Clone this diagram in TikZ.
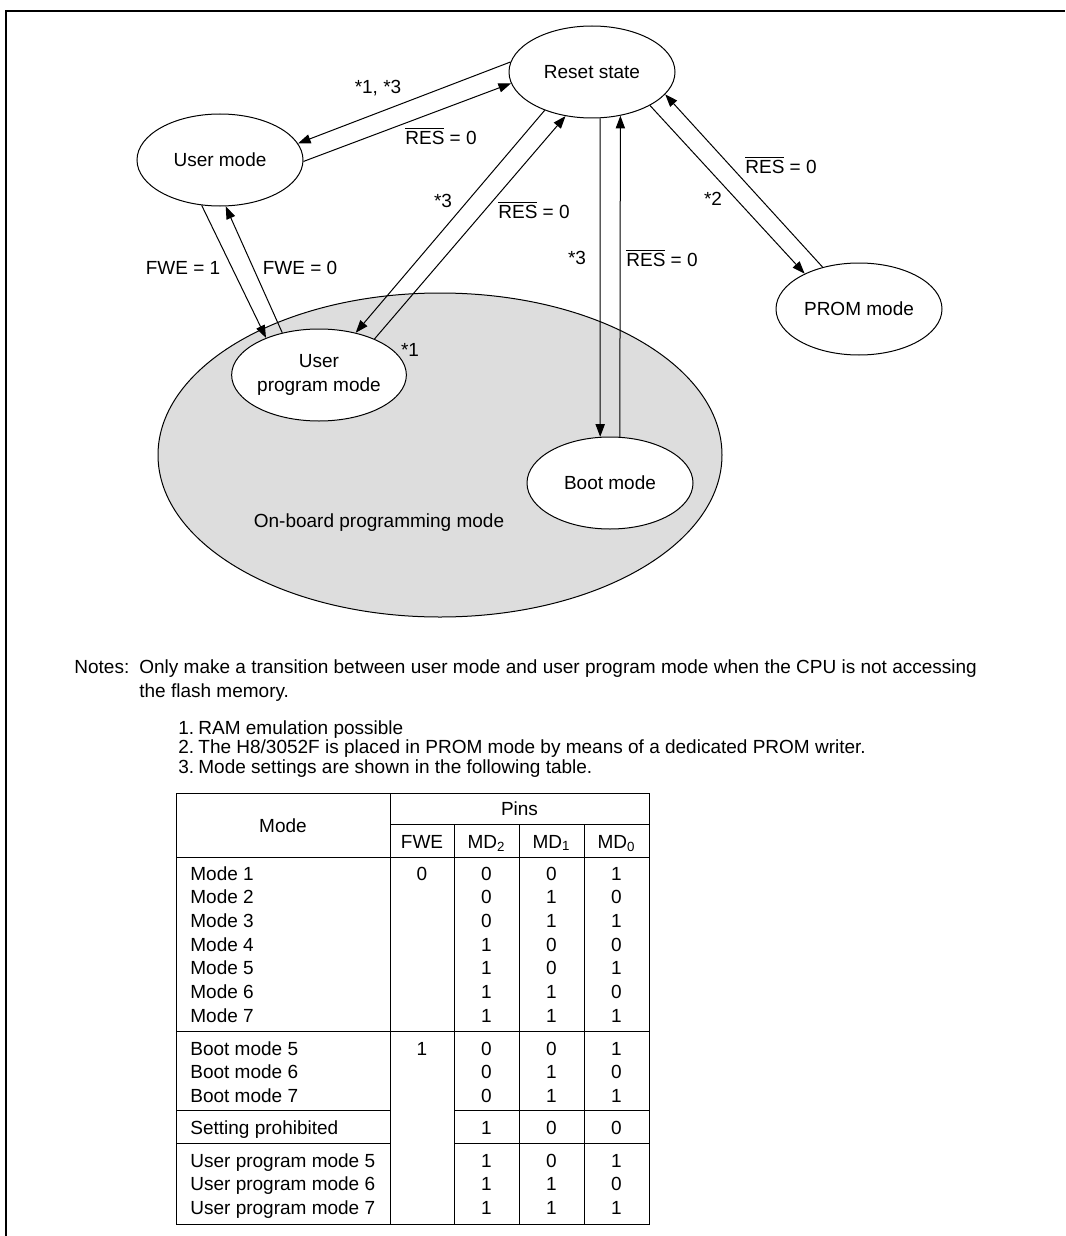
\documentclass[tikz,border=0pt]{standalone}
\usepackage{fontspec}
\setmainfont{Liberation Sans}
\usetikzlibrary{shapes.geometric,arrows.meta}
\definecolor{obgray}{RGB}{221,221,221}
\newcommand\resz{$\overline{\mbox{RES}}$ = 0}
\begin{document}
\begin{tikzpicture}[x=0.5pt,y=-0.5pt,
  every node/.style={font=\fontsize{9.5}{12}\selectfont},
  st/.style={ellipse,draw,fill=white,line width=0.5pt,minimum width=83pt,minimum height=46pt,inner sep=0pt,align=center},
  conn/.style={line width=0.5pt,-{Triangle[length=6.3pt,width=4.6pt]}},
  lab/.style={inner sep=0pt,anchor=base},
  txt/.style={inner sep=0pt,anchor=base west},
  tline/.style={line width=0.5pt},
  ]
\useasboundingbox (0,0) rectangle (1065,1236);
% frame
\draw[line width=1pt] (6,1236) -- (6,11) -- (1065,11);

% on-board programming region
\node[ellipse,draw,fill=obgray,line width=0.5pt,minimum width=282pt,minimum height=162pt,inner sep=0pt] (obp) at (440,455) {};
\node[lab] (obplab) at (379,527) {On-board programming mode};

% states
\node[st] (reset) at (592,72) {Reset state};
\node[st] (user) at (220,160) {User mode};
\node[st] (prom) at (859,309) {PROM mode};
\node[st] (upm) at (319,375) {User\\program mode};
\node[st] (boot) at (610,483) {Boot mode};

% connectors
\draw[conn] (reset.173) -- (user.12);
\draw[conn] (user.-1) -- (reset.188);
\draw[conn] (user.248) -- (upm.145);
\draw[conn] (upm.131) -- (user.277);
\draw[conn] (reset.219) -- (upm.49);
\draw[conn] (upm.33) -- (reset.239);
\draw[conn] (reset.280) -- (boot.102);
\draw[conn] (boot.78) -- (reset.303);
\draw[conn] (reset.330) -- (prom.147);
\draw[conn] (prom.131) -- (reset.343);

% labels
\node[lab] (l1) at (378,94) {*1, *3};
\node[lab] (l2) at (441,144) {\resz};
\node[lab] (l3) at (183,274) {FWE = 1};
\node[lab] (l4) at (300,274) {FWE = 0};
\node[lab] (l5) at (443,207) {*3};
\node[lab] (l6) at (534,218) {\resz};
\node[lab] (l7) at (577,264) {*3};
\node[lab] (l8) at (662,266) {\resz};
\node[lab] (l9) at (713,205) {*2};
\node[lab] (l10) at (781,173) {\resz};
\node[lab] (l11) at (410,356) {*1};

% notes
\node[txt] (n0) at (74,673) {Notes:};
\node[txt] (n1) at (139,673) {Only make a transition between user mode and user program mode when the CPU is not accessing};
\node[txt] (n2) at (139,697) {the flash memory.};
\node[txt] (n3a) at (178,734) {1.};
\node[txt] (n3) at (198,734) {RAM emulation possible};
\node[txt] (n4a) at (178,753) {2.};
\node[txt] (n4) at (198,753) {The H8/3052F is placed in PROM mode by means of a dedicated PROM writer.};
\node[txt] (n5a) at (178,773) {3.};
\node[txt] (n5) at (198,773) {Mode settings are shown in the following table.};

% table
\draw[tline] (176,793) rectangle (649,1224);
\draw[tline] (390,793) -- (390,1224);
\draw[tline] (390,824) -- (649,824);
\draw[tline] (454,824) -- (454,1224);
\draw[tline] (519,824) -- (519,1224);
\draw[tline] (584,824) -- (584,1224);
\draw[tline] (176,857) -- (649,857);
\draw[tline] (176,1031) -- (649,1031);
\draw[tline] (176,1110) -- (390,1110);
\draw[tline] (454,1110) -- (649,1110);
\draw[tline] (176,1143) -- (390,1143);
\draw[tline] (454,1143) -- (649,1143);

\node[lab] (hmode) at (283,832) {Mode};
\node[lab] (hpins) at (519.5,815) {Pins};
\node[lab] (hfwe) at (422,848) {FWE};
\node[lab] (hmd2) at (486.5,848) {MD\textsubscript{2}};
\node[lab] (hmd1) at (551.5,848) {MD\textsubscript{1}};
\node[lab] (hmd0) at (616.5,848) {MD\textsubscript{0}};

\foreach \yy/\m/\a/\b/\c [count=\i] in {
  873/Mode 1/0/0/1, 896.7/Mode 2/0/1/0, 920.3/Mode 3/0/1/1, 944/Mode 4/1/0/0,
  967.7/Mode 5/1/0/1, 991.3/Mode 6/1/1/0, 1015/Mode 7/1/1/1,
  1048/Boot mode 5/0/0/1, 1071.5/Boot mode 6/0/1/0, 1095/Boot mode 7/0/1/1,
  1127/Setting prohibited/1/0/0,
  1160/User program mode 5/1/0/1, 1183.5/User program mode 6/1/1/0, 1207/User program mode 7/1/1/1} {
  \node[txt] (m\i) at (190,\yy+7) {\m};
  \node[lab] (a\i) at (486.5,\yy+7) {\a};
  \node[lab] (b\i) at (551.5,\yy+7) {\b};
  \node[lab] (c\i) at (616.5,\yy+7) {\c};
}
\node[lab] (f1) at (422,880) {0};
\node[lab] (f2) at (422,1055) {1};
\end{tikzpicture}
\end{document}
